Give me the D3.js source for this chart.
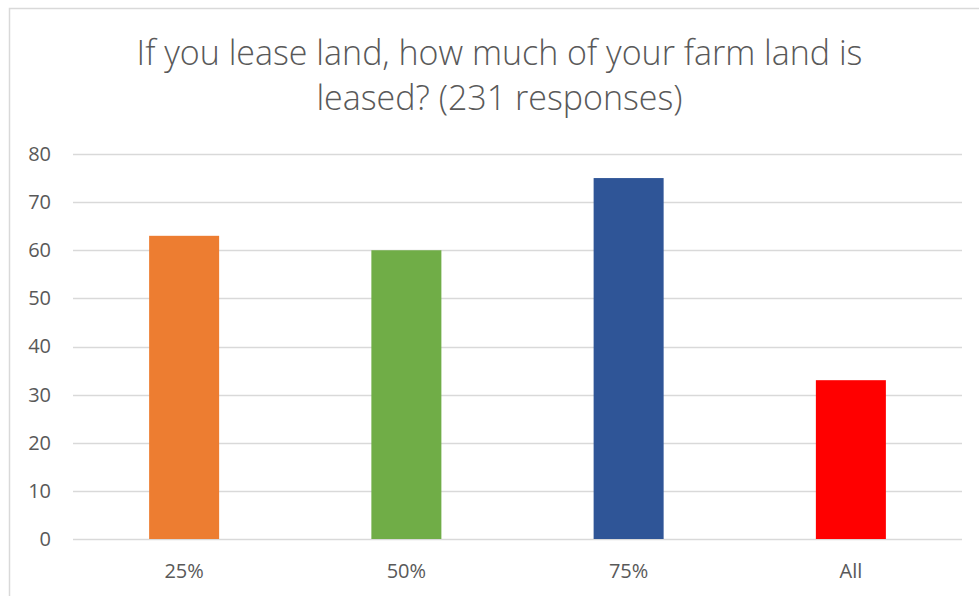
<!DOCTYPE html>
<html><head><meta charset="utf-8">
<script src="https://cdn.jsdelivr.net/npm/d3@7"></script>
<style>html,body{margin:0;padding:0;background:#fff;}svg{display:block;}</style>
</head><body>
<svg id="chart" width="979" height="596"></svg>
<script>
const categories = ["25%", "50%", "75%", "All"];
const values = [63, 60, 75, 33];
const colors = ["#ED7D31", "#70AD47", "#2F5597", "#FF0000"];
const yTicks = [0, 10, 20, 30, 40, 50, 60, 70, 80];
const titleLines = ["If you lease land, how much of your farm land is", "leased? (231 responses)"];

const svg = d3.select("#chart");
const W = 979, H = 596;
const m = {left: 73, right: 17, top: 154, bottom: 57};

// chart border
svg.append("rect").attr("x", 9.5).attr("y", 8.5).attr("width", W + 20).attr("height", H + 20)
  .attr("fill", "#fff").attr("stroke", "#D9D9D9").attr("stroke-width", 1.5);

const x = d3.scaleBand().domain(categories).range([m.left, W - m.right]).paddingInner(0.685).paddingOuter(0.3425);
const y = d3.scaleLinear().domain([0, 80]).range([H - m.bottom, m.top]);

const font = "'Open Sans', 'Liberation Sans', sans-serif";

// gridlines
svg.append("g").selectAll("line").data(yTicks).join("line")
  .attr("x1", m.left).attr("x2", W - m.right)
  .attr("y1", d => Math.round(y(d)) + 0.5).attr("y2", d => Math.round(y(d)) + 0.5)
  .attr("stroke", "#D9D9D9").attr("stroke-width", 1.5);

// y labels
const yAxis = d3.axisLeft(y).tickValues(yTicks).tickSize(0).tickPadding(22);
const ga = svg.append("g").attr("transform", `translate(${m.left},0)`).call(yAxis);
ga.select(".domain").remove();
ga.selectAll("text").attr("font-family", font).attr("font-size", 20).attr("fill", "#595959");

// bars
svg.append("g").selectAll("rect").data(values).join("rect")
  .attr("x", (d, i) => x(categories[i]))
  .attr("width", x.bandwidth())
  .attr("y", d => y(d))
  .attr("height", d => y(0) - y(d))
  .attr("fill", (d, i) => colors[i]);

// x labels
const xAxis = d3.axisBottom(x).tickSize(0).tickPadding(25);
const gx = svg.append("g").attr("transform", `translate(0,${y(0)})`).call(xAxis);
gx.select(".domain").remove();
gx.selectAll("text").attr("font-family", font).attr("font-size", 20).attr("fill", "#595959");

// title
const tt = svg.append("g").selectAll("text").data(titleLines).join("text")
  .attr("x", 499.5).attr("y", (d, i) => 65 + i * 45)
  .attr("text-anchor", "middle")
  .attr("font-family", font).attr("font-weight", 300)
  .attr("font-size", 30).attr("fill", "#595959")
  .text(d => d);
const w0 = tt.node().getComputedTextLength();
tt.attr("font-size", 30 * 726 / w0);
</script>
</body></html>
